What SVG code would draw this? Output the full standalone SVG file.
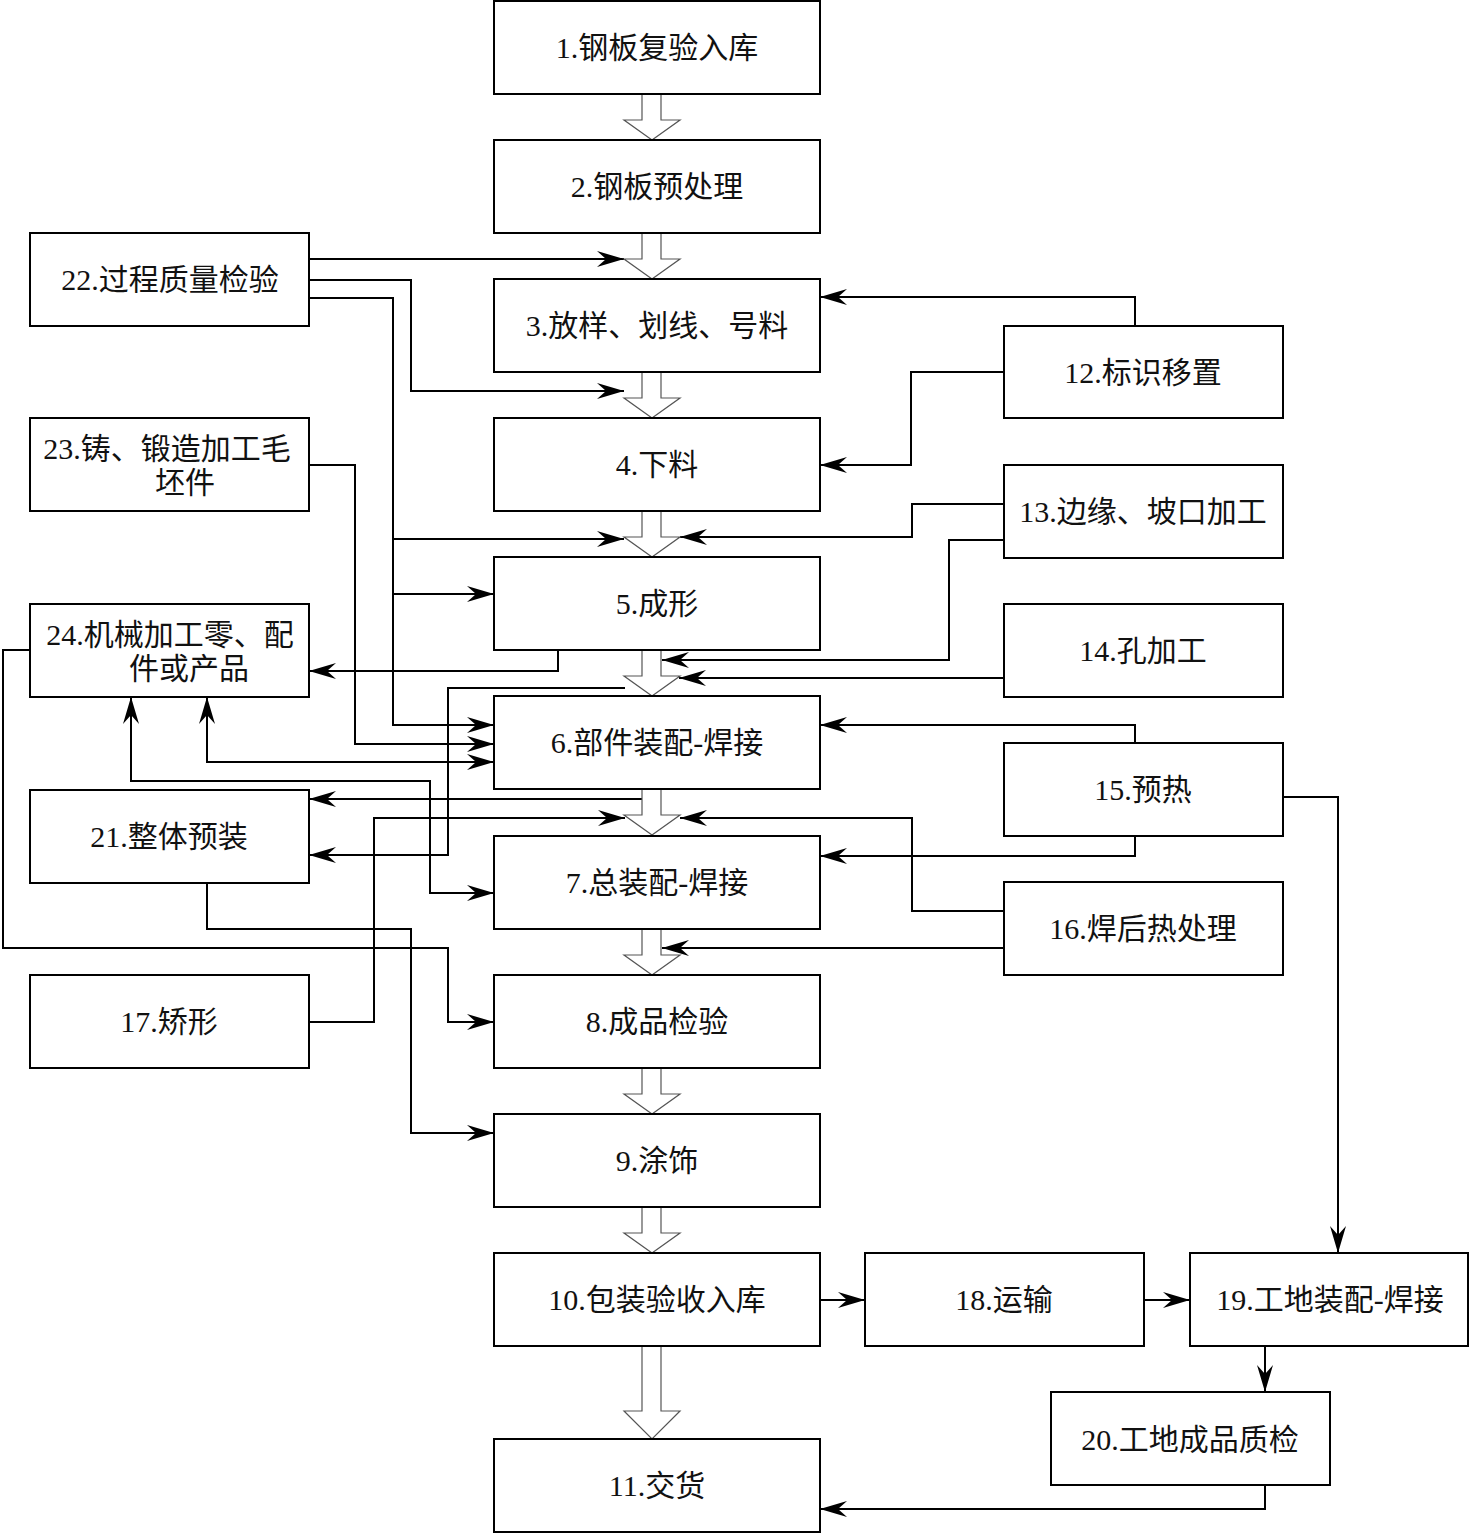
<svg xmlns="http://www.w3.org/2000/svg" width="1470" height="1533" viewBox="0 0 1470 1533">
<style>
.box{fill:#fff;stroke:#000;stroke-width:2}
.t{font-family:"Liberation Serif","Noto Sans CJK SC",serif;font-size:30px;fill:#111;text-anchor:middle;dominant-baseline:central}
.c{fill:none;stroke:#000;stroke-width:2}
.a{marker-end:url(#ah)}
.b{marker-start:url(#ah);marker-end:url(#ah)}
.h{fill:#fff;stroke:#555;stroke-width:1.2}
</style>
<defs>
<marker id="ah" markerUnits="userSpaceOnUse" markerWidth="30" markerHeight="20" viewBox="-28 -10 30 20" refX="0" refY="0" orient="auto-start-reverse">
<path d="M0,0 L-27,-8 L-18,0 L-27,8 Z" fill="#000"/>
</marker>
<path id="ha" d="M642,0 V26 H624 L652,46 L680,26 H661 V0"/>
</defs>
<rect width="1470" height="1533" fill="#fff"/>

<g id="connectors">
<path class="c a" d="M309,259 H624"/>
<path class="c a" d="M309,280 H411 V391 H624"/>
<path class="c a" d="M309,298 H393 V725 H494"/>
<path class="c a" d="M393,539 H624"/>
<path class="c a" d="M393,594 H494"/>
<path class="c a" d="M309,465 H355 V744 H494"/>
<path class="c a" d="M558,650 V671 H309"/>
<path class="c b" d="M207,697 V762 H494"/>
<path class="c b" d="M131,697 V781 H430 V893 H494"/>
<path class="c a" d="M30,650 H3 V948 H448 V1022 H494"/>
<path class="c a" d="M207,883 V929 H411 V1133 H494"/>
<path class="c a" d="M643,799 H309"/>
<path class="c a" d="M625,688 H448 V855 H309"/>
<path class="c a" d="M309,1022 H374 V818 H625"/>
<path class="c a" d="M1135,326 V297 H820"/>
<path class="c a" d="M1004,372 H911 V465 H820"/>
<path class="c a" d="M1004,504 H912 V537 H680"/>
<path class="c a" d="M1004,540 H949 V660 H662"/>
<path class="c a" d="M1004,678 H679"/>
<path class="c a" d="M1135,743 V725 H820"/>
<path class="c a" d="M1135,836 V856 H820"/>
<path class="c a" d="M1283,797 H1338 V1253"/>
<path class="c a" d="M1004,911 H912 V818 H680"/>
<path class="c a" d="M1004,948 H662"/>
<path class="c a" d="M820,1300 H865"/>
<path class="c a" d="M1144,1300 H1190"/>
<path class="c a" d="M1265,1346 V1392"/>
<path class="c a" d="M1265,1485 V1509 H820"/>
<use href="#ha" class="h" y="94"/>
<use href="#ha" class="h" y="233"/>
<use href="#ha" class="h" y="372"/>
<use href="#ha" class="h" y="511"/>
<use href="#ha" class="h" y="650"/>
<use href="#ha" class="h" y="789"/>
<use href="#ha" class="h" y="929"/>
<use href="#ha" class="h" y="1068"/>
<use href="#ha" class="h" y="1207"/>
<path class="h" d="M642,1346 V1411 H624 L652,1439 L680,1411 H661 V1346"/>
</g>

<g id="n1"><rect class="box" x="494" y="1" width="326" height="93"/><text class="t" x="657" y="47">1.钢板复验入库</text></g>
<g id="n2"><rect class="box" x="494" y="140" width="326" height="93"/><text class="t" x="657" y="186">2.钢板预处理</text></g>
<g id="n3"><rect class="box" x="494" y="279" width="326" height="93"/><text class="t" x="657" y="325">3.放样、划线、号料</text></g>
<g id="n4"><rect class="box" x="494" y="418" width="326" height="93"/><text class="t" x="657" y="464">4.下料</text></g>
<g id="n5"><rect class="box" x="494" y="557" width="326" height="93"/><text class="t" x="657" y="603">5.成形</text></g>
<g id="n6"><rect class="box" x="494" y="696" width="326" height="93"/><text class="t" x="657" y="742">6.部件装配-焊接</text></g>
<g id="n7"><rect class="box" x="494" y="836" width="326" height="93"/><text class="t" x="657" y="882">7.总装配-焊接</text></g>
<g id="n8"><rect class="box" x="494" y="975" width="326" height="93"/><text class="t" x="657" y="1021">8.成品检验</text></g>
<g id="n9"><rect class="box" x="494" y="1114" width="326" height="93"/><text class="t" x="657" y="1160">9.涂饰</text></g>
<g id="n10"><rect class="box" x="494" y="1253" width="326" height="93"/><text class="t" x="657" y="1299">10.包装验收入库</text></g>
<g id="n11"><rect class="box" x="494" y="1439" width="326" height="93"/><text class="t" x="657" y="1485">11.交货</text></g>

<g id="n12"><rect class="box" x="1004" y="326" width="279" height="92"/><text class="t" x="1143" y="372">12.标识移置</text></g>
<g id="n13"><rect class="box" x="1004" y="465" width="279" height="93"/><text class="t" x="1143" y="511">13.边缘、坡口加工</text></g>
<g id="n14"><rect class="box" x="1004" y="604" width="279" height="93"/><text class="t" x="1143" y="650">14.孔加工</text></g>
<g id="n15"><rect class="box" x="1004" y="743" width="279" height="93"/><text class="t" x="1143" y="789">15.预热</text></g>
<g id="n16"><rect class="box" x="1004" y="882" width="279" height="93"/><text class="t" x="1143" y="928">16.焊后热处理</text></g>

<g id="n18"><rect class="box" x="865" y="1253" width="279" height="93"/><text class="t" x="1004" y="1299">18.运输</text></g>
<g id="n19"><rect class="box" x="1190" y="1253" width="278" height="93"/><text class="t" x="1330" y="1299">19.工地装配-焊接</text></g>
<g id="n20"><rect class="box" x="1051" y="1392" width="279" height="93"/><text class="t" x="1190" y="1439">20.工地成品质检</text></g>

<g id="n22"><rect class="box" x="30" y="233" width="279" height="93"/><text class="t" x="170" y="279">22.过程质量检验</text></g>
<g id="n23"><rect class="box" x="30" y="418" width="279" height="93"/><text class="t" x="167" y="448">23.铸、锻造加工毛</text><text class="t" x="185" y="482">坯件</text></g>
<g id="n24"><rect class="box" x="30" y="604" width="279" height="93"/><text class="t" x="170" y="634">24.机械加工零、配</text><text class="t" x="189" y="668">件或产品</text></g>
<g id="n21"><rect class="box" x="30" y="790" width="279" height="93"/><text class="t" x="169" y="836">21.整体预装</text></g>
<g id="n17"><rect class="box" x="30" y="975" width="279" height="93"/><text class="t" x="169" y="1021">17.矫形</text></g>
</svg>
